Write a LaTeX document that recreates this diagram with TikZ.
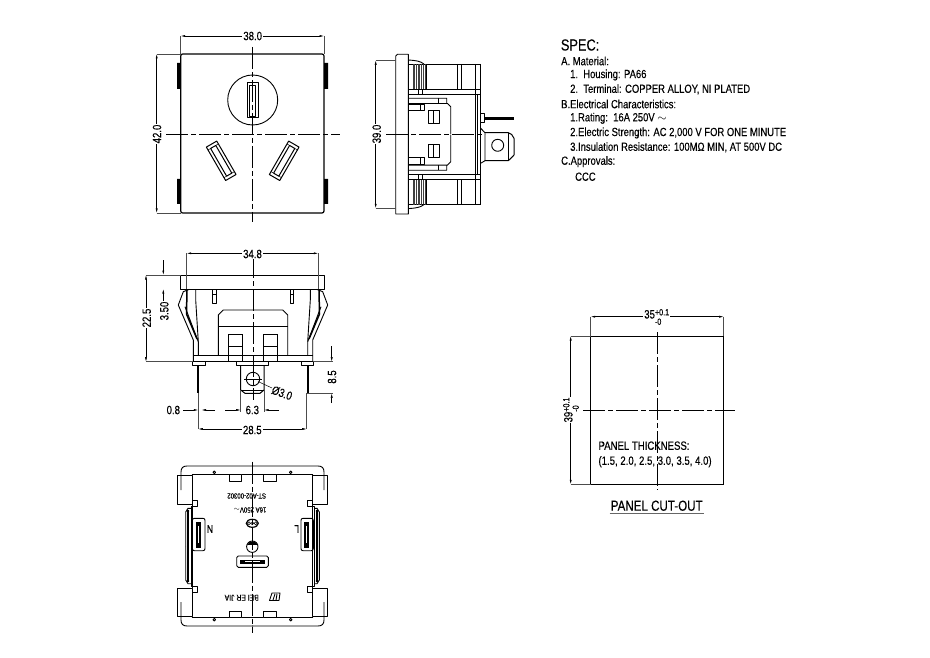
\documentclass[tikz,border=0pt]{standalone}
\usepackage{fontspec}
\setmainfont[FakeStretch=0.8,FakeBold=0.25]{Liberation Sans}
\usetikzlibrary{arrows.meta}
\newcommand{\tolup}[2]{\raisebox{-1ex}{\shortstack[l]{\fontsize{9}{7}\selectfont #1\\\fontsize{9}{7}\selectfont #2}}}
\tikzset{
  x=1pt,y=-1pt,
  part/.style={line width=0.9pt,black,line join=round},
  heavy/.style={line width=1.5pt,black},
  fine/.style={line width=0.5pt,black},
  rib/.style={line width=0.7pt,black!75},
  ctr/.style={line width=0.7pt,black,dash pattern=on 22pt off 3pt on 5pt off 3pt},
  ext/.style={line width=0.5pt,black!70},
  dim/.style={line width=0.5pt,black,{Latex[length=4.5pt,width=2pt]}-{Latex[length=4.5pt,width=2pt]}},
  lead/.style={line width=0.5pt,black,-{Latex[length=4.5pt,width=2pt]}},
  lab/.style={font=\fontsize{12}{12}\selectfont,inner sep=1pt,fill=white},
  plain/.style={font=\fontsize{12}{12}\selectfont,inner sep=0pt,anchor=west},
  spec/.style={font=\fontsize{11.8}{12}\selectfont,inner sep=0pt,anchor=west},
  stamped/.style={font=\fontsize{7.5}{7.5}\selectfont,inner sep=0pt,rotate=180},
}
\newcommand{\sideslot}[1]{%
  \begin{scope}[rotate=#1]
    \draw[part,line width=1pt] (-6,-19.3) rectangle (6,19.3);
    \draw[part,line width=1pt] (-3,-16) rectangle (3,16);
    \draw[fine] (-6,-16) -- (-3,-16) (6,-16) -- (3,-16) (-6,16) -- (-3,16) (6,16) -- (3,16);
  \end{scope}}
\newcommand{\sideupper}{%
  \draw[part] (408.3,64) -- (480.7,64);
  \foreach \xx in {413,414.7,...,425.5}{\draw[rib] (\xx,64) -- (\xx,89.3);}
  \draw[line width=1.2pt] (426.7,64) -- (426.7,89.3);
  \draw[part,line width=0.9pt] (457.7,64) -- (457.7,89.3) (461.3,64) -- (461.3,89.3);
  \draw[part] (408.3,60) .. controls (416,60.5) and (420,61) .. (424,64);
  \draw[part] (408.3,89.3) -- (480.7,89.3) (408.3,94.3) -- (480.7,94.3);
  \draw[part] (418,89.3) -- (418,94.3) (422,89.3) -- (422,94.3);
  \draw[part] (408.3,98.3) -- (446.7,98.3) -- (446.7,103.5) (408.3,103.5) -- (447.5,103.5) -- (450.7,106.7) -- (450.7,134);
  \draw[part] (438.3,98.3) -- (438.3,103.5);
  \draw[part] (408.3,104.3) -- (424,104.3) -- (424,110.7) -- (408.3,110.7) (420,104.3) -- (420,110.7);
  \draw[part,line width=1pt] (428,110.7) rectangle (439.3,124);
  \draw[fine] (433.7,110.7) -- (433.7,124);
}
\newcommand{\bottomhalf}{%
  \draw[part] (189.3,289.3) -- (183.3,291.7) -- (178.3,305) -- (193.3,340) -- (193.3,361.7);
  \draw[part] (185,306.7) -- (198.3,341.7);
  \draw[heavy] (187,290) -- (186.5,314);
  \draw[heavy] (186.5,314) -- (197,339);
  \draw[part] (195.7,289) -- (195.7,300) -- (198.3,341.7) -- (198.3,355);
  \draw[part] (212.3,289) rectangle (216,303.3);
  \draw[part] (212.3,294) -- (216,294);
  \draw[part] (253,310) -- (223.3,310) -- (218.3,315) -- (218.3,355);
  \draw[part] (218.3,326) -- (253,326);
  \draw[part] (228.7,334) rectangle (242.3,361.7);
  \draw[heavy] (228.7,334) -- (228.7,361.7) (242.3,334) -- (242.3,361.7);
  \draw[part] (228.7,346.7) -- (242.3,346.7) (228.7,355) -- (242.3,355);
  \draw[part] (192.3,361.7) rectangle (205,365);
  \draw[heavy,line width=1.7pt] (198.3,365) -- (198.3,393.3);
}
\newcommand{\backquad}{%
  \draw[part] (181,490) -- (181,472) .. controls (181,468) and (183,466) .. (187,466) -- (253,466);
  \draw[part] (191.7,474.3) -- (252.7,474.3);
  \draw[heavy] (195,474.3) -- (252.7,474.3);
  \draw[part] (177.3,475.7) rectangle (192.3,504);
  \draw[part,fill=white] (229,474.3) rectangle (241.7,481);
  \draw[part,fill=white] (214.3,472.3) circle (1.3);
  \draw[part] (192.3,500) -- (197.7,500) -- (197.7,506) -- (191,506) -- (191,546);
  \draw[part] (185.7,546) -- (185.7,512) -- (188,508.3) -- (191,508.3);
  \draw[heavy] (187.8,510) -- (187.8,546);
  \fill (188,511) circle (1.4);
  \draw[part] (192.3,504) -- (192.3,546);
}
\begin{document}
\begin{tikzpicture}
\useasboundingbox (0,0) rectangle (930,658);
% ---- front view
\draw[line width=1.2pt,rounded corners=2pt] (180.7,54) rectangle (324,213);
\fill (177,63) rectangle (180.7,89) (177,179) rectangle (180.7,204);
\fill (324,63) rectangle (328,89) (324,179) rectangle (328,204);
\draw[part] (252.7,100) circle (25);
\draw[part,line width=1pt] (247,83) rectangle (258,118);
\draw[part] (249.5,85) rectangle (255.5,116);
\begin{scope}[shift={(221.2,160.8)}]\sideslot{30}\end{scope}
\begin{scope}[shift={(284.2,160.8)}]\sideslot{-30}\end{scope}
\draw[ctr] (252.7,47) -- (252.7,222);
\draw[ctr] (166,134) -- (340,134);
\draw[ext] (180.7,36) -- (180.7,54) (324,36) -- (324,54);
\draw[dim] (180.7,36) -- (324,36);
\node[lab] (d38) at (252.7,36) {38.0};
\draw[ext] (156.7,54) -- (181,54) (156.7,213) -- (181,213);
\draw[dim] (156.7,54) -- (156.7,213);
\node[lab,rotate=90] (d42) at (157,134) {42.0};
% ---- side view
\draw[part] (395.7,214) -- (395.7,56) .. controls (395.7,55) and (396.5,54.3) .. (397.5,54.3) -- (408.3,54.3) -- (408.3,214) -- cycle;
\sideupper
\begin{scope}[shift={(0,268.6)},yscale=-1]\sideupper\end{scope}
\draw[part,line width=1pt] (480.7,64) -- (480.7,204.3);
\draw[part] (475,64) -- (475,204.3) (477.7,94.3) -- (477.7,174.7);
\draw[part] (480.7,113) rectangle (484,122.7);
\draw[heavy,line width=3pt] (484,118.5) -- (514,118.5);
\draw[part] (480.7,128.3) -- (485,132.7) -- (485,160.7) -- (480.7,163.3);
\draw[part,line width=1pt] (485,132.7) -- (508.3,132.7) -- (511.7,134.5) -- (514,138.3) -- (514,155) -- (511.7,157.5) -- (508.3,160.7) -- (485,160.7);
\draw[part] (508.3,132.7) -- (508.3,160.7);
\draw[part] (497.7,145.3) circle (6);
\draw[ctr] (386,134.3) -- (485,134.3);
\draw[ext] (375.7,60.3) -- (395.7,60.3) (375.7,208.3) -- (395.7,208.3);
\draw[dim] (375.7,60.3) -- (375.7,208.3);
\node[lab,rotate=90] (d39s) at (376.7,134) {39.0};
% ---- bottom view
\draw[part,line width=1pt] (180.7,275) rectangle (324.7,289);
\bottomhalf
\begin{scope}[shift={(506,0)},xscale=-1]\bottomhalf\end{scope}
\draw[part] (193.3,355) -- (312.7,355);
\draw[part] (193.3,361.7) -- (312.7,361.7);
\draw[ext] (146,361.7) -- (193.3,361.7) (312.7,361.7) -- (333,361.7);
\draw[part] (236.7,361.7) rectangle (268.3,365);
\draw[part,line width=1pt] (240.7,365) -- (240.7,390) -- (245,393.3) -- (260,393.3) -- (264,390) -- (264,365);
\draw[part] (240.7,390) -- (264,390);
\draw[part] (253,379) circle (6.7);
\draw[fine] (244,379) -- (262,379);
\draw[ctr] (253,256) -- (253,400);
\draw[ext] (186.7,253.3) -- (186.7,289) (318.3,253.3) -- (318.3,289);
\draw[dim] (186.7,253.3) -- (318.3,253.3);
\node[lab] (d348) at (252.5,254) {34.8};
\draw[ext] (146,275) -- (181,275);
\draw[dim] (146,275) -- (146,361.7);
\node[lab,rotate=90] (d225) at (146.7,318) {22.5};
\draw[lead] (163.3,260) -- (163.3,275);
\draw[lead] (163.3,305) -- (163.3,289);
\node[lab,rotate=90] (d350) at (164.3,311) {3.50};
\draw[lead] (331.7,346) -- (331.7,361.7);
\draw[lead] (331.7,403) -- (331.7,393.3);
\draw[ext] (306.7,393.3) -- (333,393.3);
\node[lab,rotate=90] (d85) at (332,377) {8.5};
\draw[ext] (198.3,393.3) -- (198.3,429) (306.7,393.3) -- (306.7,429) (240.7,390) -- (240.7,411.7) (264,390) -- (264,411.7);
\node[lab] (d08) at (173.3,410) {0.8};
\draw[lead] (183,410) -- (198.3,410);
\draw[lead] (215,410) -- (201.5,410);
\draw[lead] (225,410) -- (240.7,410);
\draw[lead] (279,410) -- (264,410);
\node[lab] (d63) at (252.3,410) {6.3};
\draw[dim] (198.3,429) -- (306.7,429);
\node[lab] (d285) at (252.3,430) {28.5};
\draw[fine] (258,381.5) -- (272,388);
\node[lab,rotate=-20,fill=none] (dhole) at (282,393) {Ø3.0};
% ---- back view
\backquad
\begin{scope}[shift={(505,0)},xscale=-1]\backquad\end{scope}
\begin{scope}[shift={(0,1092)},yscale=-1]\backquad\end{scope}
\begin{scope}[shift={(505,1092)},xscale=-1,yscale=-1]\backquad\end{scope}
\draw[part,rounded corners=2pt] (192.3,518.3) rectangle (205,550.7);
\fill (195.7,521.7) rectangle (201,547.7);
\fill[white] (197.7,526) rectangle (199,543);
\draw[part,rounded corners=2pt] (301,518.3) rectangle (313.3,550.7);
\fill (304.3,521.7) rectangle (309,547.7);
\fill[white] (306,526) rectangle (307.3,543);
\draw[part,rounded corners=1.5pt] (236.7,556) rectangle (268.3,567.3);
\fill (240,559.7) rectangle (265,563.7);
\fill[white] (245,561.2) rectangle (260,562.2);
\draw[part] (252.3,546.7) circle (5.7);
\fill (247.1,544.8) arc[start angle=-160,end angle=-20,radius=5.5] -- cycle;
\draw[ctr] (252.3,461.7) -- (252.3,633);
\draw[line width=1.2pt] (252.3,523.3) ellipse (6 and 4);
\draw[fine] (249,523.3) circle (1.5) (252.3,523.3) circle (1.5) (255.6,523.3) circle (1.5);
\node[stamped] (tn) at (210,529) {\fontsize{11}{11}\selectfont N};
\node[stamped] (tl) at (296.7,529) {\fontsize{11}{11}\selectfont L};
\node[stamped] (tcode) at (246.7,496) {ST-A02-00302};
\node[stamped] (trate) at (250,510) {16A 250V$\sim$};
\node[stamped] (tmaker) at (241.7,597.7) {\fontsize{8.5}{8.5}\selectfont BEI ER JIA};
\draw[part] (269.5,600.5) -- (272,593) -- (280,593) -- (279,600.5) -- cycle (273,600) -- (275,594) (276,600) -- (277,594);
% ---- panel cut-out
\draw[line width=0.9pt] (590.7,336) rectangle (723.7,484.3);
\draw[heavy,line width=1.1pt] (590.7,336) -- (590.7,484.3);
\draw[ctr] (657.3,332) -- (657.3,490);
\draw[ctr] (583,410.3) -- (735,410.3);
\draw[ext] (590.7,316.7) -- (590.7,336) (723.7,316.7) -- (723.7,336);
\draw[dim] (590.7,316.7) -- (723.7,316.7);
\node[lab] (d35) at (656.7,317) {35\tolup{+0.1}{-0}};
\draw[ext] (570.7,336) -- (590.7,336) (570.7,484.3) -- (590.7,484.3);
\draw[dim] (570.7,336) -- (570.7,484.3);
\node[lab,rotate=90] (d39p) at (571,410) {39\tolup{+0.1}{-0}};
\node[plain] (pt1) at (598.3,445.7) {PANEL THICKNESS:};
\node[plain] (pt2) at (598.3,461.7) {(1.5, 2.0, 2.5, 3.0, 3.5, 4.0)};
\node[font=\fontsize{14.5}{14}\selectfont,inner sep=0pt] (pco) at (656.7,505.7) {PANEL CUT-OUT};
\draw[black!60,line width=0.9pt] (609.5,513.3) -- (704,513.3);
% ---- spec
\node[font=\fontsize{16}{16}\selectfont,inner sep=0pt,anchor=west] (sp0) at (560.7,45) {SPEC:};
\node[spec] (sp1) at (561,61) {A. Material:};
\node[spec] (sp2) at (570,75) {1.\ \ Housing: PA66};
\node[spec] (sp3) at (570,89.3) {2.\ \ Terminal: COPPER ALLOY, NI PLATED};
\node[spec] (sp4) at (561,104) {B.Electrical Characteristics:};
\node[spec] (sp5) at (570,118.3) {1.Rating:\ \ 16A 250V $\sim$};
\node[spec] (sp6) at (570,133) {2.Electric Strength: AC 2,000 V FOR ONE MINUTE};
\node[spec] (sp7) at (570,147.3) {3.Insulation Resistance: 100MΩ MIN, AT 500V DC};
\node[spec] (sp8) at (561,161.7) {C.Approvals:};
\node[spec] (sp9) at (575,176.7) {CCC};
\end{tikzpicture}
\end{document}
